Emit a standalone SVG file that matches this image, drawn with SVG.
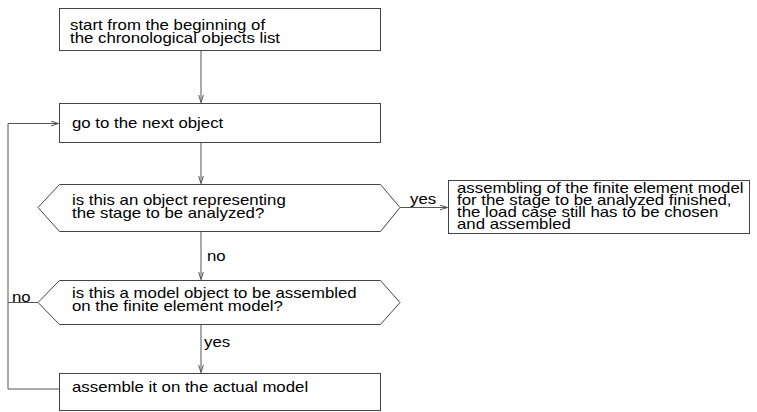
<svg xmlns="http://www.w3.org/2000/svg" width="757" height="412" viewBox="0 0 757 412">
<style>
.n{fill:#fff;stroke:#444;stroke-width:1}
.c{fill:none;stroke:#555;stroke-width:1}
text{font-family:"Liberation Sans",Arial,sans-serif;font-size:14px;fill:#000}
</style>
<defs>
<marker id="ah" markerWidth="9" markerHeight="6" refX="8" refY="3" orient="auto" markerUnits="userSpaceOnUse">
<path d="M0,0.5 L8,3 L0,5.5" fill="none" stroke="#555" stroke-width="1"/>
</marker>
</defs>
<rect width="757" height="412" fill="#fff"/>
<g id="connectors">
<line class="c" x1="201" y1="50" x2="201" y2="102.5" marker-end="url(#ah)"/>
<line class="c" x1="201" y1="142" x2="201" y2="183.5" marker-end="url(#ah)"/>
<line class="c" x1="201" y1="231" x2="201" y2="279.5" marker-end="url(#ah)"/>
<line class="c" x1="201" y1="325" x2="201" y2="372.5" marker-end="url(#ah)"/>
<line class="c" x1="400" y1="207.5" x2="447.5" y2="207.5" marker-end="url(#ah)"/>
<polyline class="c" points="59,389 8,389 8,123.5 58.5,123.5" marker-end="url(#ah)"/>
<line class="c" x1="38" y1="302.5" x2="8" y2="302.5"/>
<text transform="translate(410,204) scale(1.2,1)">yes</text>
<text transform="translate(207,261) scale(1.2,1)">no</text>
<text transform="translate(12,302) scale(1.2,1)">no</text>
<text transform="translate(204,347) scale(1.2,1)">yes</text>
</g>
<g id="start">
<rect class="n" x="59.5" y="8.5" width="321" height="42"/>
<text transform="translate(70,30) scale(1.2,1)">start from the beginning of</text>
<text transform="translate(70,43) scale(1.2,1)">the chronological objects list</text>
</g>
<g id="next">
<rect class="n" x="59.5" y="103.5" width="321" height="39"/>
<text transform="translate(72,128) scale(1.2,1)">go to the next object</text>
</g>
<g id="stage">
<polygon class="n" points="38,207.5 59.5,184.5 380.5,184.5 400,207.5 380.5,231.5 59.5,231.5"/>
<text transform="translate(72,205) scale(1.2,1)">is this an object representing</text>
<text transform="translate(72,218) scale(1.2,1)">the stage to be analyzed?</text>
</g>
<g id="finished">
<rect class="n" x="448.5" y="180.5" width="301" height="53"/>
<text transform="translate(457,193) scale(1.2,1)">assembling of the finite element model</text>
<text transform="translate(457,205) scale(1.2,1)">for the stage to be analyzed finished,</text>
<text transform="translate(457,217) scale(1.2,1)">the load case still has to be chosen</text>
<text transform="translate(457,229) scale(1.2,1)">and assembled</text>
</g>
<g id="model">
<polygon class="n" points="38,302.5 59.5,280.5 380.5,280.5 400,302.5 380.5,324.5 59.5,324.5"/>
<text transform="translate(72,298) scale(1.2,1)">is this a model object to be assembled</text>
<text transform="translate(72,311) scale(1.2,1)">on the finite element model?</text>
</g>
<g id="assemble">
<rect class="n" x="59.5" y="373.5" width="321" height="37"/>
<text transform="translate(72,392) scale(1.2,1)">assemble it on the actual model</text>
</g>
</svg>
